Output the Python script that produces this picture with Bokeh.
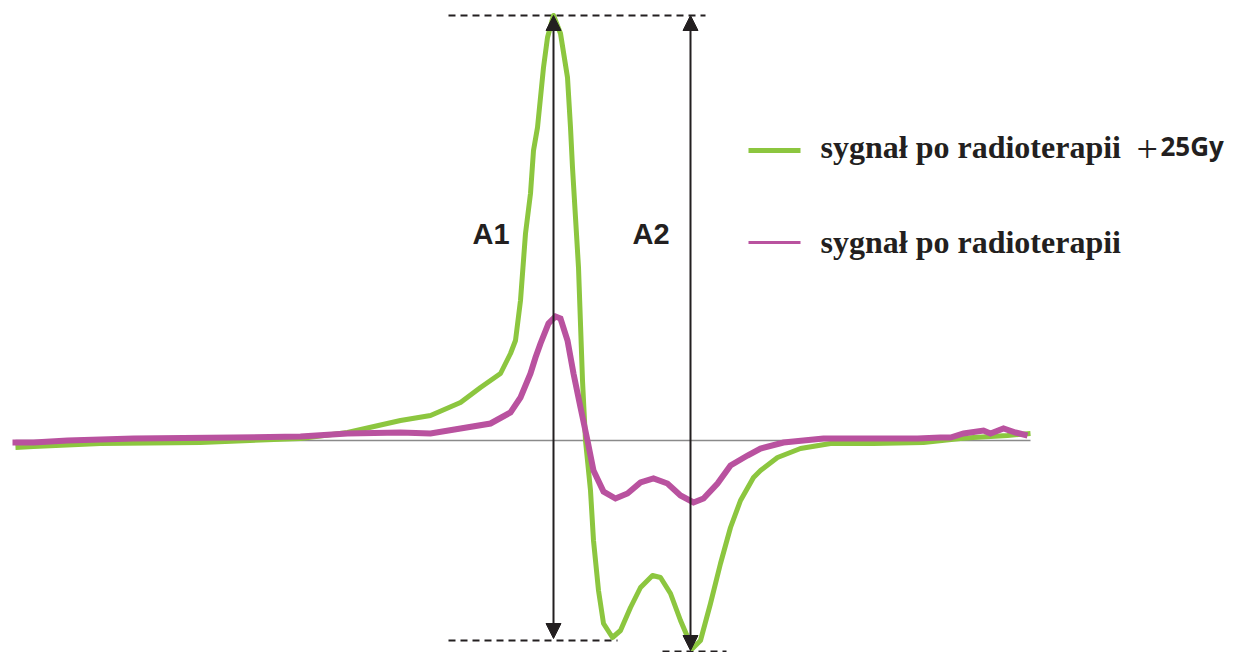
from bokeh.plotting import figure
from bokeh.models import Range1d, Arrow, NormalHead
from bokeh.core.properties import value
from bokeh.embed import file_html
from bokeh.resources import INLINE

# field position (arbitrary units) and signal amplitude (arbitrary units)
green_x = [15,33,100,200,300,347,400,430,460,480,500,510,515,520,525,530,533,537,540,543,
           547,553,560,567,570,572,575,578,582,585,590,593,598,603,612,620,630,640,652,660,
           670,680,692,700,710,720,730,740,753,760,777,800,830,873,923,960,973,1007,1030]
green_y = [-7,-6,-3,-2,2,8,20,25,38,53,67,87,100,140,207,247,290,313,343,373,
           403,425,407,363,313,273,223,173,60,0,-50,-100,-150,-183,-197,-190,-167,-147,-135,-137,
           -153,-180,-208,-200,-163,-123,-87,-60,-37,-30,-17,-8,-3,-3,-2,2,3,5,7]

mag_x = [12,33,67,133,233,300,347,400,430,460,490,510,520,530,535,540,548,555,560,567,
         573,580,587,593,603,615,627,640,653,667,680,693,703,717,730,747,760,783,823,890,
         917,940,950,963,983,990,1003,1015,1027]
mag_y = [-2,-2,0,2,3,4,7,8,7,12,17,28,43,67,83,97,117,124,122,100,
         67,33,0,-30,-51,-58,-53,-42,-38,-43,-55,-62,-58,-43,-25,-15,-8,-2,2,2,
         2,3,3,7,10,7,12,8,5]

labels = ["sygnał po radioterapii", "sygnał po radioterapii"]
suffix = "25Gy"
amp_labels = ["A1", "A2"]
amp_x = [553, 690]
amp_top = [425, 425]
amp_bottom = [-198, -210]

GREEN = "#8cc63f"
MAGENTA = "#b9529f"
INK = "#231f20"

p = figure(width=1238, height=652, x_range=Range1d(0, 1238), y_range=Range1d(-212, 440),
           x_axis_type=None, y_axis_type=None, toolbar_location=None,
           output_backend="svg", min_border=0)
p.grid.visible = False
p.outline_line_color = None
p.background_fill_color = "white"
p.border_fill_color = "white"

# baseline
p.line([15, 1030], [0, 0], line_color="#8a8a8a", line_width=1.5)

# dashed reference lines
p.segment(x0=[448, 448, 662], y0=[425, -200, -211], x1=[705, 617, 726], y1=[425, -200, -211],
          line_color=INK, line_width=2, line_dash="7 5")

# curves
p.line(green_x, green_y, line_color=GREEN, line_width=5, line_join="round")
p.line(mag_x, mag_y, line_color=MAGENTA, line_width=6, line_join="miter")

# double arrows
for xa, yt, yb in zip(amp_x, amp_top, amp_bottom):
    p.add_layout(Arrow(x_start=xa, y_start=yb, x_end=xa, y_end=yt,
                       line_color=INK, line_width=2,
                       start=NormalHead(size=15, fill_color=INK, line_color=INK),
                       end=NormalHead(size=15, fill_color=INK, line_color=INK)))

p.text(x=[472, 632], y=[207, 207], text=amp_labels, text_font=value("Liberation Sans"),
       text_font_style="bold", text_font_size="29px", text_color=INK,
       text_baseline="alphabetic", text_align="left")

# legend
p.line([748, 800], [290, 290], line_color=GREEN, line_width=5)
p.line([748, 800], [198, 198], line_color=MAGENTA, line_width=3)
p.text(x=[820, 820], y=[294, 199], text=labels, text_font=value("Liberation Serif"),
       text_font_style="bold", text_font_size="32px", text_color=INK,
       text_baseline="alphabetic", text_align="left")
p.text(x=[1136], y=[291], text=["+"], text_font=value("Liberation Serif"),
       text_font_size="38px", text_color=INK, text_baseline="alphabetic", text_align="left")
p.text(x=[1160], y=[295], text=[suffix], text_font=value("Open Sans"),
       text_font_style="bold", text_font_size="26px", text_color=INK,
       text_baseline="alphabetic", text_align="left")

open("out.html", "w").write(file_html(p, INLINE))
